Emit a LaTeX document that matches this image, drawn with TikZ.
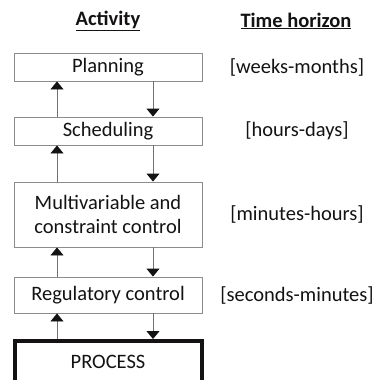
\documentclass[tikz,border=0pt]{standalone}
\usepackage{fontspec}
\setmainfont{Carlito}
\usetikzlibrary{arrows.meta}
\definecolor{boxgray}{RGB}{140,140,140}
\definecolor{txt}{RGB}{20,18,19}
\begin{document}
\begin{tikzpicture}[x=1pt,y=-1pt,
  actbox/.style={draw=boxgray,line width=0.9pt,minimum width=188pt,inner sep=0pt,align=center,font=\fontsize{20.5}{24}\selectfont,text=txt},
  lbl/.style={font=\fontsize{20.5}{24}\selectfont,text=txt,anchor=center},
  hdr/.style={font=\bfseries\fontsize{20.5}{24}\selectfont,text=txt},
  flow/.style={draw=boxgray!80!black,line width=0.9pt,-{Triangle[length=8pt,width=13pt,fill=txt,color=txt]}}]
\useasboundingbox (0,0) rectangle (379,380);
\node[hdr] (hact) at (108,21) {\underline{Activity}};
\node[hdr] (htime) at (296,21) {\underline{Time horizon}};
\node[actbox,minimum height=28pt] (plan) at (108,67) {Planning};
\node[actbox,minimum height=28pt] (sched) at (108,131) {Scheduling};
\node[actbox,minimum height=65pt] (multi) at (108,214.5) {Multivariable and\\constraint control};
\node[actbox,minimum height=36pt] (reg) at (108,295) {Regulatory control};
\node[lbl] (t1) at (297,67) {[weeks-months]};
\node[lbl] (t2) at (297,131) {[hours-days]};
\node[lbl] (t3) at (297,214.5) {[minutes-hours]};
\node[lbl] (t4) at (297,295) {[seconds-minutes]};
\coordinate (pl) at (15,385);
\coordinate (pr) at (202,385);
\coordinate (ptop) at (108,339);
\draw[line width=4pt,color=txt] (pl) |- (108,341) -| (pr);
\node[lbl] (ptext) at (108,362) {PROCESS};
% arrows up (x=57) and down (x=153)
\draw[flow] (sched.north -| 57,0) -- (plan.south -| 57,0);
\draw[flow] (plan.south -| 153,0) -- (sched.north -| 153,0);
\draw[flow] (multi.north -| 57,0) -- (sched.south -| 57,0);
\draw[flow] (sched.south -| 153,0) -- (multi.north -| 153,0);
\draw[flow] (reg.north -| 57,0) -- (multi.south -| 57,0);
\draw[flow] (multi.south -| 153,0) -- (reg.north -| 153,0);
\draw[flow] (ptop -| 57,0) -- (reg.south -| 57,0);
\draw[flow] (reg.south -| 153,0) -- (ptop -| 153,0);
\end{tikzpicture}
\end{document}
